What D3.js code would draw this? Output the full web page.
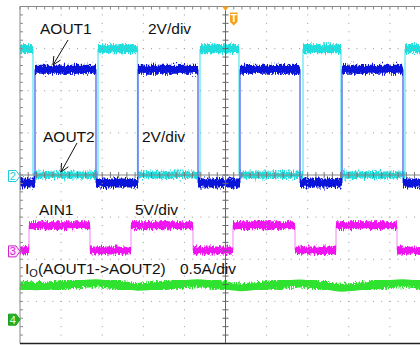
<!DOCTYPE html>
<html>
<head>
<meta charset="utf-8">
<script src="https://cdn.jsdelivr.net/npm/d3@7"></script>
<style>
  body { margin: 0; background: #fff; }
  svg { display: block; font-family: "Liberation Sans", Arial, sans-serif; }
</style>
</head>
<body>
<script>
// time is in divisions, 0 = trigger point (screen centre)
const aout1Edges = [-4.635, -3.151, -2.129, -0.669, 0.353, 1.813, 2.835, 4.319];
const aout2Edges = [-4.684, -3.102, -2.141, -0.620, 0.328, 1.886, 2.810, 4.367];
const ain1Edges  = [-4.781, -3.297, -2.299, -0.791, 0.182, 1.691, 2.689, 4.173];

// [low, high] levels and state at left edge (0 = low, 1 = high)
const aout1Levels = [0, 5.4];   // V
const aout2Levels = [0, 6.0];   // V
const ain1Levels  = [0, 3.0];   // V
const startState  = [0, 1, 0];

// output current, sampled at the ripple turning points
const ioTimes = [-5.0, -4.635, -3.151, -2.129, -0.669, 0.353, 1.813, 2.835, 4.319, 5.0];
const ioAmps  = [0.386, 0.374, 0.433, 0.368, 0.433, 0.362, 0.428, 0.356, 0.433, 0.39];

// per channel: units per division, ground position (div from centre)
const chNames  = ['AOUT1', 'AOUT2', 'AIN1', 'Io'];
const chScale  = [2, 2, 5, 0.5];
const chGround = [-0.19, 0, -1.79, -3.41];

const width = 420, height = 345;
const x = d3.scaleLinear().domain([-5, 5]).range([20, 431]);
const y = d3.scaleLinear().domain([-4, 4]).range([343.5, 6.5]);

const svg = d3.select('body').append('svg')
  .attr('width', width)
  .attr('height', height);

// noise only in y, to make the bands look like scope traces
const defs = svg.append('defs');
const filt = defs.append('filter')
  .attr('id', 'noise')
  .attr('x', '-2%').attr('y', '-20%')
  .attr('width', '104%').attr('height', '140%')
  .attr('color-interpolation-filters', 'sRGB');
filt.append('feTurbulence')
  .attr('type', 'fractalNoise')
  .attr('baseFrequency', '0.9 0.25')
  .attr('numOctaves', 2)
  .attr('seed', 4)
  .attr('result', 't');
filt.append('feColorMatrix')
  .attr('in', 't')
  .attr('type', 'matrix')
  .attr('values', '0 0 0 0 0.5  0 1 0 0 0  0 0 0 0 0  0 0 0 0 1')
  .attr('result', 'm');
filt.append('feDisplacementMap')
  .attr('in', 'SourceGraphic')
  .attr('in2', 'm')
  .attr('scale', 9)
  .attr('xChannelSelector', 'R')
  .attr('yChannelSelector', 'G');

const toDiv = (ch, v) => v / chScale[ch] + chGround[ch];

function segments(edges, levels, s0) {
  const segs = [];
  let t0 = -5, s = s0;
  edges.concat([5]).forEach(t => {
    segs.push({ t0: t0, t1: t, v: levels[s] });
    t0 = t; s = 1 - s;
  });
  return segs;
}

const traces = [
  { ch: 1, edges: aout2Edges, levels: aout2Levels, s0: startState[1], color: '#1fdede', edge: '#6eeaf0', w: [9, 7] },
  { ch: 0, edges: aout1Edges, levels: aout1Levels, s0: startState[0], color: '#0b14d9', edge: '#5d6cf2', w: [9, 9] },
  { ch: 2, edges: ain1Edges,  levels: ain1Levels,  s0: startState[2], color: '#f014f0', edge: '#f7a6f7', w: [8, 8] }
];

const traceG = svg.append('g');

traces.forEach(tr => {
  const segs = segments(tr.edges, tr.levels, tr.s0);
  const g = traceG.append('g');
  g.selectAll('line.edge').data(tr.edges)
    .enter().append('line')
    .attr('class', 'edge')
    .attr('x1', d => x(d)).attr('x2', d => x(d))
    .attr('y1', y(toDiv(tr.ch, tr.levels[1])))
    .attr('y2', y(toDiv(tr.ch, tr.levels[0])))
    .attr('stroke', tr.edge)
    .attr('stroke-width', 1.4);
  // noisy envelope
  g.append('g').attr('filter', 'url(#noise)')
    .selectAll('line.band').data(segs)
    .enter().append('line')
    .attr('class', 'band')
    .attr('x1', d => x(d.t0)).attr('x2', d => x(d.t1))
    .attr('y1', d => y(toDiv(tr.ch, d.v))).attr('y2', d => y(toDiv(tr.ch, d.v)))
    .attr('stroke', tr.color)
    .attr('stroke-width', d => d.v > 0 ? tr.w[0] : tr.w[1]);
  // solid core
  g.append('g')
    .selectAll('line.core').data(segs)
    .enter().append('line')
    .attr('class', 'core')
    .attr('x1', d => x(d.t0)).attr('x2', d => x(d.t1))
    .attr('y1', d => y(toDiv(tr.ch, d.v))).attr('y2', d => y(toDiv(tr.ch, d.v)))
    .attr('stroke', tr.color)
    .attr('stroke-width', d => (d.v > 0 ? tr.w[0] : tr.w[1]) - 4);
});

const ioLine = d3.line()
  .x((d, i) => x(ioTimes[i]))
  .y(d => y(toDiv(3, d)))
  .curve(d3.curveMonotoneX);

traceG.append('path')
  .datum(ioAmps)
  .attr('d', ioLine)
  .attr('fill', 'none')
  .attr('stroke', '#2fe22f')
  .attr('stroke-width', 10)
  .attr('filter', 'url(#noise)');
traceG.append('path')
  .datum(ioAmps)
  .attr('d', ioLine)
  .attr('fill', 'none')
  .attr('stroke', '#2fe22f')
  .attr('stroke-width', 6);

// graticule, drawn over the traces
const grid = svg.append('g');
const minorY = d3.range(-4, 4.001, 0.2);
const minorX = d3.range(-5, 5.001, 0.2);

[-4, -3, -2, -1, 1, 2, 3, 4].forEach(k => {
  grid.append('g').selectAll('rect').data(minorY)
    .enter().append('rect')
    .attr('x', x(k) - 0.5).attr('y', d => y(d) - 0.5)
    .attr('width', 1).attr('height', 1)
    .attr('fill', '#999');
});
[-3, -2, -1, 1, 2, 3].forEach(k => {
  grid.append('g').selectAll('rect').data(minorX)
    .enter().append('rect')
    .attr('x', d => x(d) - 0.5).attr('y', y(k) - 0.5)
    .attr('width', 1).attr('height', 1)
    .attr('fill', '#999');
});

// centre cross
grid.append('line')
  .attr('x1', x(0)).attr('x2', x(0)).attr('y1', y(4)).attr('y2', y(-4))
  .attr('stroke', '#666').attr('stroke-width', 1);
grid.append('line')
  .attr('x1', x(-5)).attr('x2', x(5)).attr('y1', y(0)).attr('y2', y(0))
  .attr('stroke', '#888').attr('stroke-width', 1);
grid.selectAll('line.ty').data(minorY)
  .enter().append('line')
  .attr('class', 'ty')
  .attr('x1', x(0) - 3).attr('x2', x(0) + 3)
  .attr('y1', d => y(d)).attr('y2', d => y(d))
  .attr('stroke', '#666');
grid.selectAll('line.tx').data(minorX)
  .enter().append('line')
  .attr('class', 'tx')
  .attr('x1', d => x(d)).attr('x2', d => x(d))
  .attr('y1', y(0) - 3).attr('y2', y(0) + 3)
  .attr('stroke', '#777');

// borders
grid.append('line')
  .attr('x1', x(-5)).attr('x2', x(-5)).attr('y1', y(4)).attr('y2', y(-4))
  .attr('stroke', '#888');
grid.append('line')
  .attr('x1', x(-5)).attr('x2', width).attr('y1', y(4)).attr('y2', y(4))
  .attr('stroke', '#888');
grid.selectAll('line.bl').data(minorY)
  .enter().append('line')
  .attr('class', 'bl')
  .attr('x1', x(-5)).attr('x2', x(-5) + 3)
  .attr('y1', d => y(d)).attr('y2', d => y(d))
  .attr('stroke', '#888');
grid.selectAll('line.bt').data(minorX)
  .enter().append('line')
  .attr('class', 'bt')
  .attr('x1', d => x(d)).attr('x2', d => x(d))
  .attr('y1', y(4)).attr('y2', y(4) + 3)
  .attr('stroke', '#888');
grid.append('line')
  .attr('x1', x(-5)).attr('x2', width).attr('y1', y(-4)).attr('y2', y(-4))
  .attr('stroke', '#222').attr('stroke-width', 1.5);

// channel ground markers
const markers = [
  { ch: 1, label: '2', stroke: '#1ccfd6', fill: '#fff', text: '#1ccfd6' },
  { ch: 2, label: '3', stroke: '#d020d0', fill: '#fbe6fb', text: '#d020d0' },
  { ch: 3, label: '4', stroke: '#1c9e1c', fill: '#22b022', text: '#e8ffe8' }
];
markers.forEach(m => {
  const cy = y(chGround[m.ch]) + 1;
  svg.append('path')
    .attr('d', `M8.5,${cy - 5.5}H16L20,${cy}L16,${cy + 5.5}H8.5Z`)
    .attr('fill', m.fill).attr('stroke', m.stroke).attr('stroke-width', 1);
  svg.append('text')
    .attr('x', 12.8).attr('y', cy + 4)
    .attr('text-anchor', 'middle')
    .style('font-size', '11px')
    .style('fill', m.text)
    .text(m.label);
});

// trigger markers
const orange = '#f5a21c';
svg.append('path')
  .attr('d', `M${x(0) - 3.5},${y(4)}H${x(0) + 3.5}L${x(0)},${y(4) + 4.5}Z`)
  .attr('fill', orange);
svg.append('path')
  .attr('d', 'M230,12.5H237.5V22L233.75,25.5L230,22Z')
  .attr('fill', orange);
svg.append('text')
  .attr('x', 233.75).attr('y', 21.5)
  .attr('text-anchor', 'middle')
  .style('font-size', '10px').style('font-weight', 'bold')
  .style('fill', '#fff')
  .text('T');

// labels
const label = (tx, ty, s) => svg.append('text')
  .attr('x', tx).attr('y', ty)
  .style('font-size', '15.5px').style('fill', '#111')
  .text(s);

label(40, 33.5, 'AOUT1');
label(148, 33.5, '2V/div');
label(43, 141.5, 'AOUT2');
label(142, 141.5, '2V/div');
label(39, 214.5, 'AIN1');
label(135, 214.5, '5V/div');
label(180, 273.5, '0.5A/div');

const io = label(25, 273.5, 'I');
io.append('tspan').attr('dy', 3).style('font-size', '11px').text('O');
io.append('tspan').attr('dy', -3).text('(AOUT1->AOUT2)');

// arrows
function arrow(x1, y1, x2, y2) {
  const a = Math.atan2(y2 - y1, x2 - x1), L = 9, sp = 0.45;
  svg.append('line')
    .attr('x1', x1).attr('y1', y1).attr('x2', x2).attr('y2', y2)
    .attr('stroke', '#111').attr('stroke-width', 1);
  svg.append('path')
    .attr('d', `M${x2 - L * Math.cos(a - sp)},${y2 - L * Math.sin(a - sp)}L${x2},${y2}L${x2 - L * Math.cos(a + sp)},${y2 - L * Math.sin(a + sp)}`)
    .attr('fill', 'none').attr('stroke', '#111').attr('stroke-width', 1);
}
arrow(68, 40, 53, 65);
arrow(77, 143, 61, 172);
</script>
</body>
</html>
